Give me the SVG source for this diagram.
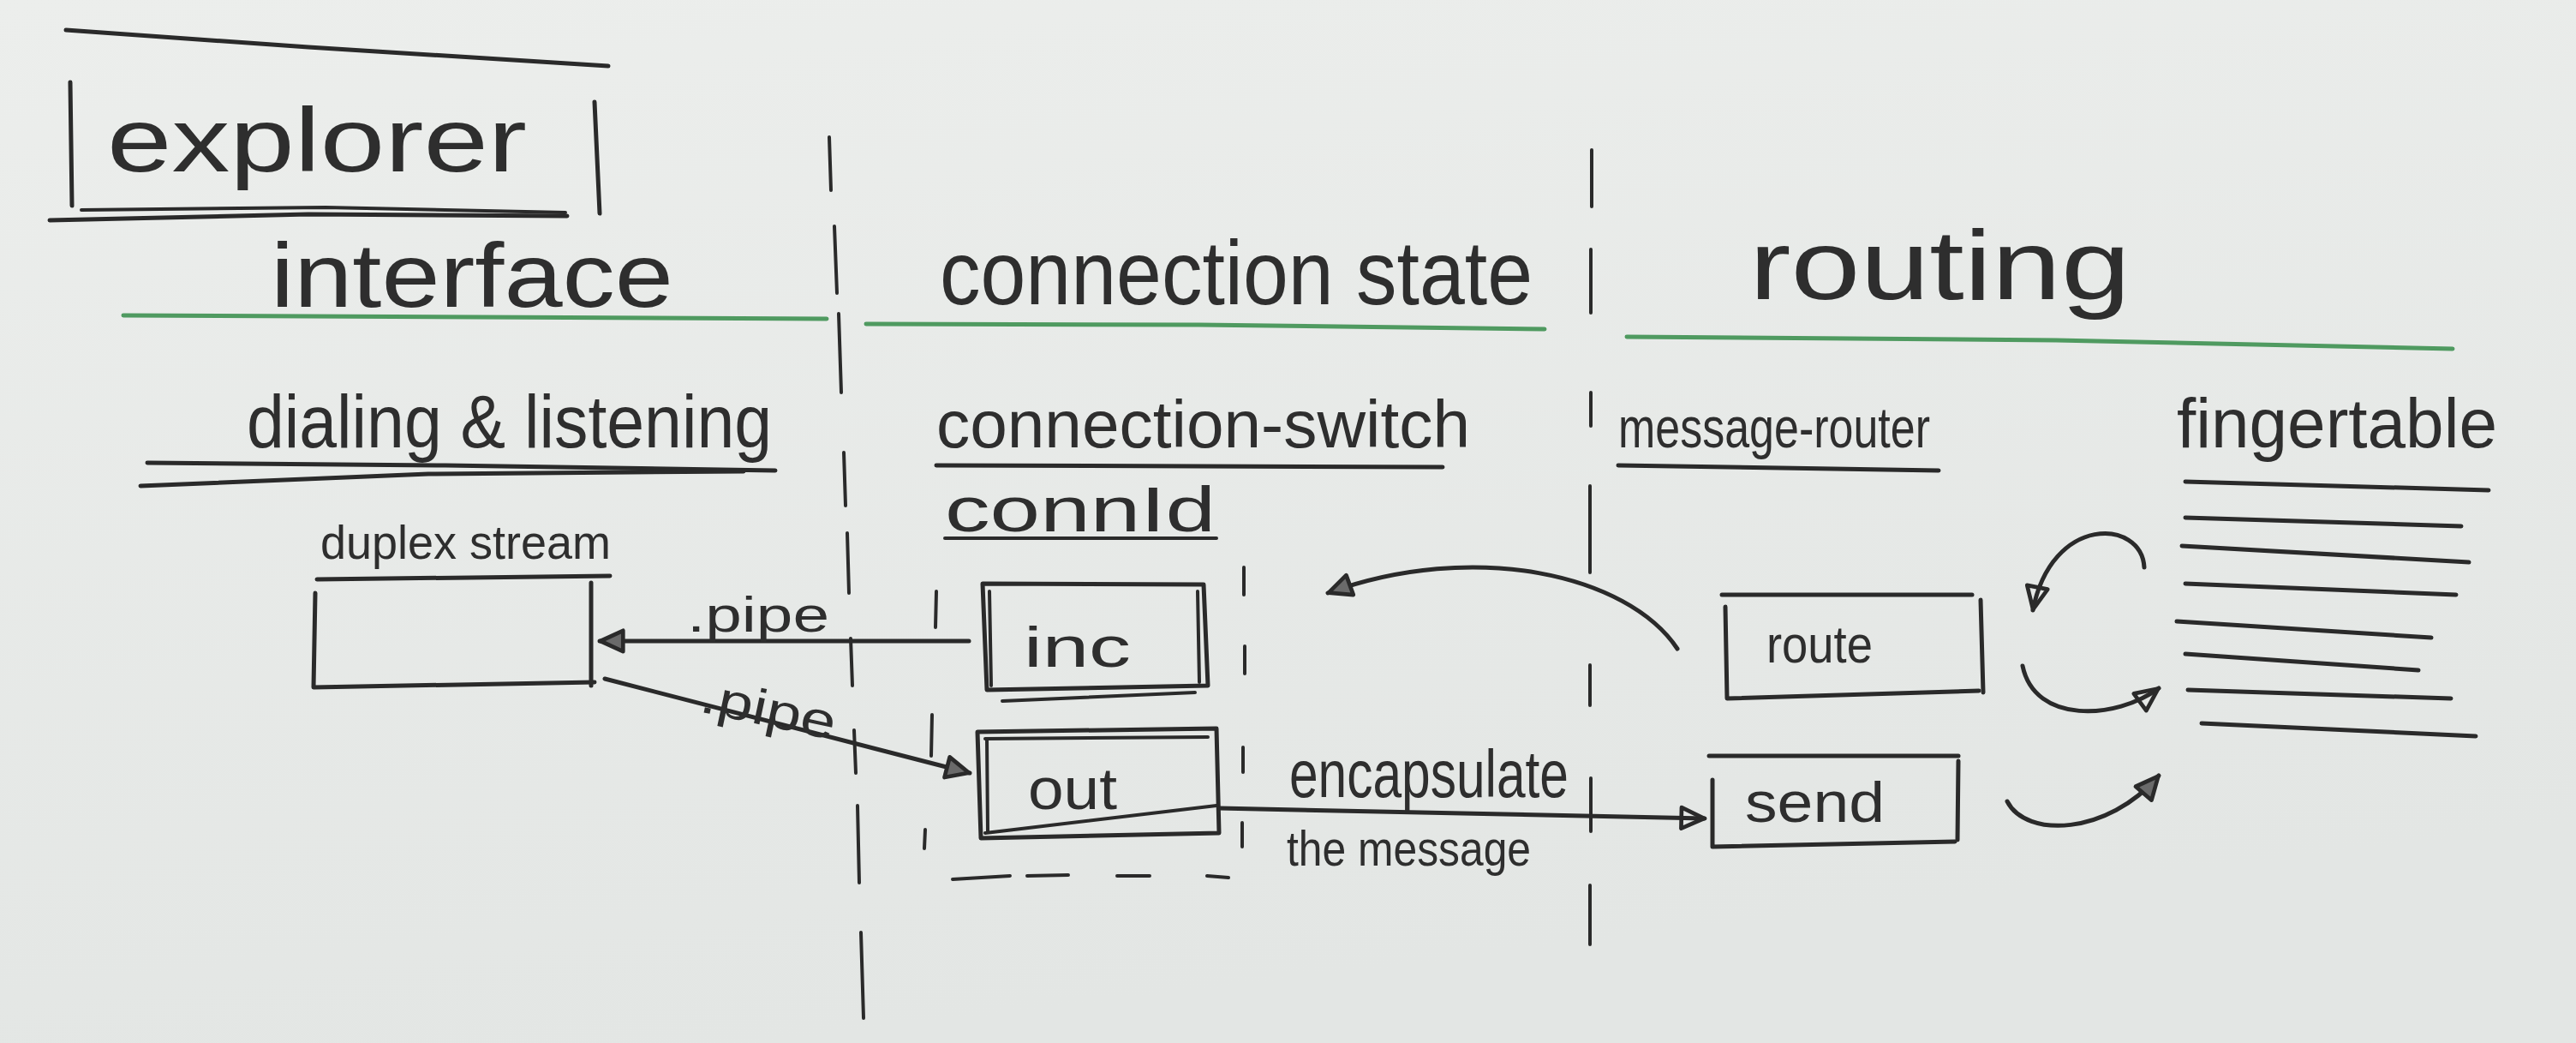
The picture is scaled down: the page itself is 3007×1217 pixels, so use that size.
<svg xmlns="http://www.w3.org/2000/svg" width="3007" height="1217" viewBox="0 0 3007 1217">
<defs>
<linearGradient id="bg" x1="0" y1="0" x2="0.3" y2="1">
<stop offset="0" stop-color="#eceeec"/>
<stop offset="1" stop-color="#e3e6e4"/>
</linearGradient>
<marker id="tri" viewBox="0 0 34 34" refX="32" refY="17" markerWidth="32" markerHeight="32" markerUnits="userSpaceOnUse" orient="auto">
<path d="M3,4 L31,17 L3,30 Z" fill="#6a6a6a" stroke="#2a2a2a" stroke-width="5" stroke-linejoin="round"/>
</marker>
<marker id="open" viewBox="0 0 34 34" refX="32" refY="17" markerWidth="32" markerHeight="32" markerUnits="userSpaceOnUse" orient="auto">
<path d="M3,4 L31,17 L3,30 Z" fill="none" stroke="#2a2a2a" stroke-width="5" stroke-linejoin="round"/>
</marker>
</defs>
<style>
.ink{fill:none;stroke:#2a2a2a;stroke-width:5;stroke-linecap:round;stroke-linejoin:round}
.thin{fill:none;stroke:#2a2a2a;stroke-width:4;stroke-linecap:round}
.green{fill:none;stroke:#4f9a60;stroke-width:5;stroke-linecap:round}
.lane{fill:none;stroke:#2a2a2a;stroke-width:4;stroke-linecap:round}
text{font-family:"Liberation Sans",Arial,sans-serif;fill:#2e2e2e}
.big{font-size:105px}
.mid{font-size:78px}
</style>
<rect width="3007" height="1217" fill="url(#bg)"/>

<g id="explorer">
<path class="ink" d="M77,35 L360,55 L710,77"/>
<path class="ink" d="M82,96 L84,240"/>
<path class="ink" d="M694,119 L700,249"/>
<path class="ink" d="M58,257 L360,250 L662,252"/>
<path class="thin" d="M95,245 L380,242 L660,248"/>
<text class="big" x="125" y="200" textLength="490" lengthAdjust="spacingAndGlyphs">explorer</text>
</g>

<g id="lanes">
<path class="lane" d="M968,160 L970,222 M974,264 L977,342 M979,366 L982,458 M985,528 L987,590 M989,622 L991,692 M993,745 L995,800 M997,852 L999,902 M1001,940 L1003,1030 M1005,1088 L1008,1188"/>
<path class="lane" d="M1858,175 L1858,241 M1857,291 L1857,365 M1857,458 L1857,497 M1856,567 L1856,668 M1856,776 L1856,823 M1857,908 L1857,970 M1856,1033 L1856,1102"/>
</g>

<g id="headers">
<text class="big" x="316" y="358" textLength="470" lengthAdjust="spacingAndGlyphs">interface</text>
<path class="green" d="M144,368 L560,370 L965,372"/>
<text class="big" x="1097" y="355" textLength="692" lengthAdjust="spacingAndGlyphs">connection state</text>
<path class="green" d="M1011,378 L1400,379 L1803,384"/>
<text x="2042" y="349" font-size="115" textLength="445" lengthAdjust="spacingAndGlyphs">routing</text>
<path class="green" d="M1899,393 L2400,397 L2863,407"/>
</g>

<g id="dialing-listening">
<text x="288" y="522" font-size="88" textLength="613" lengthAdjust="spacingAndGlyphs">dialing &amp; listening</text>
<path class="ink" d="M172,540 L520,543 L905,549"/>
<path class="ink" d="M164,567 L500,553 L868,550"/>
</g>

<g id="duplex-stream">
<text x="374" y="652" font-size="56" textLength="339" lengthAdjust="spacingAndGlyphs">duplex stream</text>
<path class="ink" d="M370,676 L712,672"/>
<path class="ink" d="M368,692 L366,802 L694,796"/>
<path class="ink" d="M690,680 L690,800"/>
</g>

<g id="connection-switch">
<text class="mid" x="1093" y="522" textLength="623" lengthAdjust="spacingAndGlyphs">connection-switch</text>
<path class="ink" d="M1093,543 L1684,545"/>
<text x="1103" y="620" font-size="74" textLength="316" lengthAdjust="spacingAndGlyphs">connId</text>
<path class="thin" d="M1103,628 L1420,628"/>
<path class="lane" d="M1093,690 L1092,732 M1088,834 L1087,882 M1080,968 L1079,990 M1112,1026 L1179,1022 M1199,1022 L1247,1021 M1304,1022 L1342,1022 M1409,1022 L1434,1024 M1452,662 L1452,694 M1453,754 L1453,786 M1451,872 L1451,901 M1450,960 L1450,988"/>
</g>

<g id="inc">
<path class="ink" d="M1147,681 L1405,682 L1410,800 L1152,805 Z"/>
<path class="thin" d="M1398,690 L1400,796 M1155,690 L1157,800 M1170,818 L1395,808"/>
<text x="1195" y="778" font-size="66" textLength="125" lengthAdjust="spacingAndGlyphs">inc</text>
</g>

<g id="out">
<path class="ink" d="M1141,854 L1420,850 L1423,972 L1145,978 Z"/>
<path class="thin" d="M1150,862 L1410,860 M1152,862 L1153,970 M1150,972 L1420,940"/>
<text x="1200" y="944" font-size="68" textLength="104" lengthAdjust="spacingAndGlyphs">out</text>
</g>

<g id="message-router">
<text x="1889" y="522" font-size="66" textLength="364" lengthAdjust="spacingAndGlyphs">message-router</text>
<path class="ink" d="M1889,543 L2263,549"/>
</g>

<g id="route">
<path class="ink" d="M2010,694 L2302,694"/>
<path class="ink" d="M2014,708 L2016,815 L2310,806"/>
<path class="ink" d="M2312,700 L2315,808"/>
<text x="2062" y="773" font-size="62" textLength="124" lengthAdjust="spacingAndGlyphs">route</text>
</g>

<g id="send">
<path class="ink" d="M1995,882 L2286,882"/>
<path class="ink" d="M1999,910 L1999,988 L2282,982"/>
<path class="ink" d="M2286,888 L2285,980"/>
<text x="2037" y="959" font-size="66" textLength="163" lengthAdjust="spacingAndGlyphs">send</text>
</g>

<g id="fingertable">
<text x="2541" y="522" font-size="82" textLength="374" lengthAdjust="spacingAndGlyphs">fingertable</text>
<path class="ink" d="M2551,562 L2905,572"/>
<path class="ink" d="M2551,604 L2873,614"/>
<path class="ink" d="M2547,637 L2882,656"/>
<path class="ink" d="M2551,681 L2867,694"/>
<path class="ink" d="M2541,725 L2838,744"/>
<path class="ink" d="M2551,763 L2823,782"/>
<path class="ink" d="M2554,805 L2861,815"/>
<path class="ink" d="M2570,844 L2890,859"/>
</g>

<g id="connectors">
<path class="ink" d="M1131,748 L700,748" marker-end="url(#tri)"/>
<text x="802" y="737" font-size="58" textLength="166" lengthAdjust="spacingAndGlyphs">.pipe</text>
<path class="ink" d="M706,792 L1132,902" marker-end="url(#tri)"/>
<text x="815" y="830" font-size="58" textLength="160" lengthAdjust="spacingAndGlyphs" transform="rotate(12 815 830)">.pipe</text>
<path class="ink" d="M1423,943 L1990,955" marker-end="url(#open)"/>
<text x="1505" y="930" font-size="78" textLength="326" lengthAdjust="spacingAndGlyphs">encapsulate</text>
<text x="1502" y="1010" font-size="58" textLength="285" lengthAdjust="spacingAndGlyphs">the message</text>
<path class="ink" d="M1958,757 C1900,670 1720,630 1550,692" marker-end="url(#tri)"/>
<path class="ink" d="M2503,662 C2500,605 2395,600 2373,712" marker-end="url(#open)"/>
<path class="ink" d="M2361,777 C2375,845 2470,840 2520,803" marker-end="url(#open)"/>
<path class="ink" d="M2343,935 C2365,978 2460,975 2520,905" marker-end="url(#tri)"/>
</g>
</svg>
